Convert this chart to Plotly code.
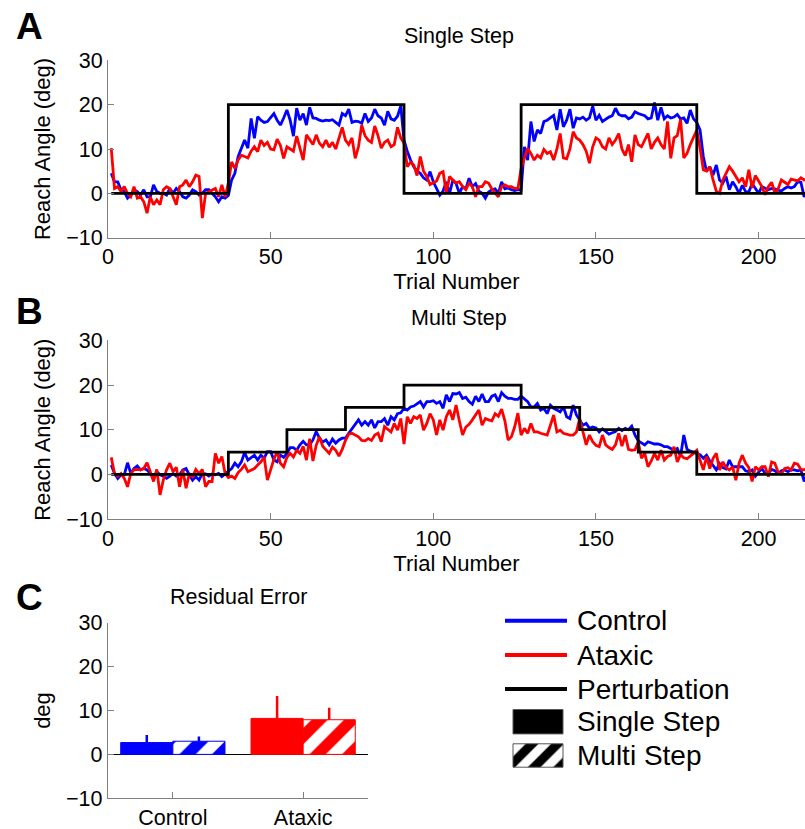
import plotly.graph_objects as go

W, H = 805, 829
FONT = "Liberation Sans, Arial, Helvetica, sans-serif"
BLUE, RED, BLACK, GRAY = "#0000ff", "#ff0000", "#000000", "#808080"

trials = list(range(1, 217))

# Reach angle (deg) for each trial, single-step session
control_single = [
    4.5, 2.6, 2.6, 0.8, 0.4, -1.1, -0.4, 0.8, 0.4, -0.4,        # 1-10
    0.8, -0.8, -0.8, 1.9, 0.4, 0.0, 0.0, -0.4, 1.1, 0.0,         # 11-20
    1.1, 0.4, -0.8, -1.1, -0.4, 0.8, 0.4, -0.4, 0.0, 0.8,        # 21-30
    0.8, 0.0, -0.8, -1.9, -0.8, -1.1, -0.5, 3.0, 4.5, 8.3,       # 31-40
    10.0, 12.0, 10.2, 16.9, 12.4, 17.3, 16.5, 16.0, 16.2, 17.0,  # 41-50
    18.0, 16.5, 15.4, 17.0, 18.8, 16.5, 12.9, 19.2, 16.5, 18.0,  # 51-60
    15.4, 19.4, 17.0, 16.9, 16.5, 16.3, 16.5, 16.4, 16.6, 16.0,  # 61-70
    15.4, 18.0, 17.5, 19.0, 16.0, 16.3, 16.2, 15.8, 18.0, 16.2,  # 71-80
    17.0, 19.0, 17.5, 17.0, 15.4, 18.5, 16.8, 16.5, 17.4, 19.7,  # 81-90
    12.0, 9.5, 7.5, 6.0, 5.0, 4.5, 3.5, 3.0, 4.9, 2.6,           # 91-100
    1.0, -0.4, 0.5, 2.6, 0.0, 3.0, 2.2, 0.0, 1.5, 1.0,           # 101-110
    3.4, 1.5, 2.2, 0.5, 0.0, -1.1, 0.3, 0.8, 1.0, 0.0,           # 111-120
    2.6, 1.0, 1.2, 0.8, 0.6, 0.8, 0.8, 10.5, 7.5, 16.2,          # 121-130
    11.7, 14.3, 13.5, 16.2, 16.5, 17.0, 17.6, 14.3, 19.0, 15.0,  # 131-140
    16.5, 19.0, 14.7, 17.0, 16.8, 17.2, 16.5, 17.0, 19.7, 16.5,  # 141-150
    17.6, 16.2, 16.8, 17.2, 17.5, 19.2, 17.8, 17.5, 17.5, 16.8,  # 151-160
    17.2, 18.4, 18.0, 17.8, 17.5, 16.8, 17.0, 20.5, 16.5, 19.4,  # 161-170
    16.8, 17.5, 17.0, 17.2, 17.8, 16.8, 17.0, 15.8, 18.8, 16.8,  # 171-180
    16.0, 14.3, 8.3, 4.9, 6.0, 4.1, 6.4, 3.0, 2.3, 3.8,          # 181-190
    0.8, 2.6, 1.5, 0.0, 1.8, 0.4, 0.3, 2.2, 1.0, 0.0,            # 191-200
    1.5, 1.2, 0.8, 1.1, 1.0, 0.7, 0.5, 1.1, 1.5, 1.2,            # 201-210
    1.5, 2.6, 2.5, -0.8, 0.5, 0.5,                               # 211-216
]
ataxic_single = [
    10.2, 1.1, 1.5, 0.4, 1.5, 0.0, -0.8, 1.5, -1.1, -0.8,        # 1-10
    -1.9, -4.5, -0.8, -2.6, -1.5, -2.6, 0.8, 1.5, 1.1, -0.8,     # 11-20
    -2.6, 1.5, 1.9, 3.0, 1.5, 2.6, 4.1, 3.8, -5.6, 0.0,          # 21-30
    0.4, 0.8, 1.1, -0.8, 1.9, -0.8, 2.3, 7.1, 5.6, 7.5,          # 31-40
    8.6, 8.3, 8.0, 9.5, 10.5, 9.4, 12.0, 10.8, 11.5, 10.0,       # 41-50
    9.8, 12.2, 10.8, 7.9, 10.5, 10.0, 9.5, 12.9, 10.0, 7.5,      # 51-60
    13.2, 12.0, 11.0, 13.2, 11.3, 10.5, 12.0, 10.4, 11.5, 10.0,  # 61-70
    12.5, 14.9, 12.0, 11.0, 12.5, 7.9, 10.5, 15.4, 13.0, 12.0,   # 71-80
    11.5, 15.2, 13.0, 10.2, 11.5, 12.0, 10.5, 11.0, 14.9, 12.5,  # 81-90
    11.3, 6.0, 7.0, 6.4, 4.0, 8.3, 5.0, 3.8, 2.0, 2.5,           # 91-100
    2.8, 4.5, 4.9, 0.0, 3.8, 3.0, 2.3, 2.6, 1.5, 0.8,            # 101-110
    2.3, 1.5, -0.8, 1.5, 1.5, 2.6, 2.3, 1.0, 0.0, -0.8,          # 111-120
    1.5, 1.9, 1.5, 1.5, 1.1, 1.1, 5.6, 8.0, 10.2, 9.0,           # 121-130
    7.5, 8.6, 8.0, 9.9, 9.0, 9.4, 7.5, 10.0, 13.5, 8.0,          # 131-140
    7.8, 10.0, 13.9, 12.5, 12.0, 11.0, 9.5, 6.8, 10.5, 12.5,     # 141-150
    12.0, 10.5, 10.0, 12.5, 11.0, 12.0, 13.5, 10.0, 8.5, 11.0,   # 151-160
    7.1, 13.2, 11.0, 10.5, 12.0, 13.5, 10.0, 11.5, 12.5, 11.0,   # 161-170
    10.0, 16.2, 7.9, 12.5, 13.0, 16.7, 8.0, 9.0, 11.0, 12.5,     # 171-180
    14.3, 10.2, 5.3, 5.0, 6.0, 3.0, 0.5, 0.0, 3.0, 4.5,          # 181-190
    6.0, 5.0, 3.8, 2.6, 3.5, 1.5, 5.3, 1.2, 4.0, 2.6,            # 191-200
    1.5, -0.3, 1.5, 2.5, 0.0, 1.0, 3.0, 2.5, 2.0, 3.2,           # 201-210
    3.0, 2.8, 3.5, 3.0, 3.2, 3.0,                                # 211-216
]

# Reach angle (deg) for each trial, multi-step session
control_multi = [
    2.1, 0.2, -0.9, -0.1, -0.1, 2.6, 0.2, 1.3, 1.9, 1.0,         # 1-10
    1.3, 1.0, 0.2, -0.9, 0.6, -0.1, -0.4, -0.9, -0.4, 0.2,       # 11-20
    -0.4, -0.1, 1.0, 1.3, -0.1, -1.3, -0.5, -1.3, 0.2, 0.1,      # 21-30
    -0.4, 0.1, -0.1, 0.2, -0.5, 0.1, 0.6, 1.3, 2.5, 1.7,         # 31-40
    2.8, 4.9, 3.2, 3.8, 4.3, 3.2, 4.3, 3.6, 5.1, 5.1,            # 41-50
    3.2, 2.8, 4.3, 3.8, 4.7, 6.0, 6.0, 5.4, 6.6, 7.4,            # 51-60
    6.6, 6.6, 7.7, 9.6, 8.1, 7.2, 7.7, 6.6, 7.9, 7.0,            # 61-70
    7.7, 8.1, 8.1, 9.2, 10.3, 11.4, 12.2, 11.0, 11.8, 11.0,      # 71-80
    12.2, 10.4, 11.8, 11.8, 12.5, 11.0, 12.9, 12.2, 13.6, 13.8,  # 81-90
    14.8, 14.4, 15.1, 15.3, 15.9, 16.3, 15.1, 16.3, 16.3, 16.5,  # 91-100
    15.9, 16.3, 14.8, 17.8, 16.3, 18.1, 18.0, 18.3, 17.0, 17.3,  # 101-110
    16.3, 15.7, 17.5, 16.3, 18.0, 16.3, 16.3, 17.5, 17.8, 16.3,  # 111-120
    18.3, 17.5, 17.0, 17.0, 16.8, 16.8, 17.5, 17.0, 16.3, 15.1,  # 121-130
    15.1, 15.9, 14.4, 14.8, 13.6, 15.5, 14.8, 14.4, 14.0, 15.1,  # 131-140
    12.9, 12.5, 15.5, 13.3, 12.0, 11.0, 11.4, 10.3, 10.6, 10.4,  # 141-150
    9.5, 10.2, 9.6, 9.0, 9.3, 9.6, 10.3, 9.8, 10.3, 10.0,        # 151-160
    10.8, 8.8, 7.5, 7.0, 6.6, 7.3, 7.0, 6.8, 6.8, 6.6,           # 161-170
    6.2, 6.2, 5.8, 5.4, 5.8, 4.0, 8.8, 5.6, 5.2, 5.0,            # 171-180
    4.6, 4.4, 3.6, 4.3, 3.0, 2.1, 1.0, 2.4, 1.5, 1.2,            # 181-190
    3.2, 1.7, 1.7, 1.7, 1.7, 0.8, 0.6, 1.0, -0.4, 0.5,           # 191-200
    1.3, 0.2, 0.2, 1.1, 0.8, 0.2, 0.8, 1.0, 0.6, 1.0,            # 201-210
    1.0, 0.8, 1.0, -1.6, 0.3, 0.3,                               # 211-216
]
ataxic_multi = [
    3.8, 0.2, -0.4, 0.2, -0.9, -2.8, 0.2, 1.0, 1.1, 1.0,         # 1-10
    1.3, 2.6, 0.6, -1.6, 1.1, -4.6, -1.3, 1.0, 2.5, 0.6,         # 11-20
    1.6, -2.8, 1.1, -3.1, 0.2, -0.5, 1.1, 0.1, 1.1, -2.8,        # 21-30
    -1.6, -1.6, 4.7, 2.5, 4.0, 0.2, -0.7, -0.4, -0.9, 0.4,       # 31-40
    1.1, 2.1, 0.6, 1.0, 1.3, 2.1, 2.8, 3.9, -1.3, 1.0,           # 41-50
    3.4, 5.1, 2.5, 1.7, 3.8, 4.7, 3.9, 5.4, 4.7, 6.3,            # 51-60
    3.2, 8.0, 3.0, 6.5, 8.4, 6.3, 5.4, 4.7, 6.1, 5.4,            # 61-70
    4.1, 5.6, 7.6, 9.0, 9.2, 8.8, 8.4, 7.6, 7.5, 8.0,            # 71-80
    7.6, 8.8, 9.2, 7.3, 10.7, 10.1, 9.5, 11.4, 9.9, 12.5,        # 81-90
    6.8, 12.9, 11.4, 12.9, 12.5, 13.3, 9.9, 11.4, 13.6, 12.2,    # 91-100
    8.8, 12.2, 9.9, 12.9, 14.4, 12.2, 15.5, 12.0, 8.8, 10.6,     # 101-110
    11.2, 12.2, 13.3, 14.4, 11.0, 12.5, 12.2, 12.0, 13.6, 13.0,  # 111-120
    14.6, 12.0, 7.7, 8.4, 10.6, 13.7, 8.8, 10.3, 9.2, 11.4,      # 121-130
    9.5, 9.5, 9.2, 9.0, 8.8, 11.0, 13.3, 9.5, 9.9, 9.2,          # 131-140
    9.0, 8.8, 8.8, 9.5, 12.5, 9.5, 6.6, 8.8, 7.3, 6.5,           # 141-150
    6.2, 8.8, 6.6, 6.0, 5.6, 6.6, 9.2, 6.3, 8.8, 5.6,            # 151-160
    5.4, 5.5, 7.3, 3.6, 4.7, 1.7, 3.0, 4.7, 3.2, 5.4,            # 161-170
    3.2, 4.0, 4.3, 6.2, 2.8, 4.4, 3.7, 3.5, 4.0, 4.7,            # 171-180
    5.4, 3.0, 1.0, 4.0, 1.3, 3.6, 4.7, 1.0, 2.8, 1.5,            # 181-190
    1.0, 1.7, -1.3, 2.5, 4.3, 2.5, 1.5, -1.6, 1.7, 1.0,          # 191-200
    1.7, 1.7, -0.5, 2.8, 2.5, 0.5, 0.1, 1.3, 1.5, 1.0,           # 201-210
    2.5, 2.3, 1.1, 1.0, 1.3, 1.0,                                # 211-216
]

# Perturbation schedules: (rotation in deg, number of trials)
single_schedule = [(0, 36), (20, 54), (0, 36), (20, 54), (0, 36)]
multi_schedule = [(0, 36), (5, 18), (10, 18), (15, 18), (20, 36),
                  (15, 18), (10, 18), (5, 18), (0, 36)]

# Residual error (deg): mean and upper error per group
groups = ["Control", "Ataxic"]
group_colors = [BLUE, RED]
residual_single = [2.7, 8.2]
residual_multi = [3.0, 7.9]
error_single = [1.7, 5.1]
error_multi = [1.1, 2.7]

legend_labels = ["Control", "Ataxic", "Perturbation", "Single Step", "Multi Step"]


def expand(schedule):
    levels = []
    for level, count in schedule:
        levels.extend([level] * count)
    return levels


def xdom(left_px, right_px):
    return [left_px / W, right_px / W]


def ydom(top_px, bottom_px):
    return [1 - bottom_px / H, 1 - top_px / H]


fig = go.Figure()

panels = [
    ("", control_single, ataxic_single, expand(single_schedule)),
    ("2", control_multi, ataxic_multi, expand(multi_schedule)),
]
for suffix, ctrl, atx, pert in panels:
    xa, ya = "x" + suffix, "y" + suffix
    fig.add_trace(go.Scatter(x=trials, y=ctrl, mode="lines", xaxis=xa, yaxis=ya,
                             line=dict(color=BLUE, width=2.8), showlegend=False))
    fig.add_trace(go.Scatter(x=trials, y=atx, mode="lines", xaxis=xa, yaxis=ya,
                             line=dict(color=RED, width=2.8), showlegend=False))
    fig.add_trace(go.Scatter(x=trials, y=pert, mode="lines", xaxis=xa, yaxis=ya,
                             line=dict(color=BLACK, width=2.8, shape="hv"),
                             showlegend=False))

# Residual error bars: solid = single step, hatched = multi step
for i, (name, col) in enumerate(zip(groups, group_colors)):
    pos = i + 1
    fig.add_trace(go.Bar(
        x=[pos], y=[residual_single[i]], width=0.4, offset=-0.4,
        xaxis="x3", yaxis="y3", showlegend=False,
        marker=dict(color=col, line=dict(color=col, width=1)),
        error_y=dict(type="data", symmetric=False, array=[error_single[i]],
                     arrayminus=[0], width=0, thickness=2.5, color=col)))
    fig.add_trace(go.Bar(
        x=[pos], y=[residual_multi[i]], width=0.4, offset=0,
        xaxis="x3", yaxis="y3", showlegend=False,
        marker=dict(color=col, line=dict(color=col, width=1),
                    pattern=dict(shape="/", fgcolor="white", fgopacity=1,
                                 fillmode="overlay", size=23, solidity=0.5)),
        error_y=dict(type="data", symmetric=False, array=[error_multi[i]],
                     arrayminus=[0], width=0, thickness=2.5, color=col)))

# Legend drawn in its own pixel-scaled axes
LX0, LX1, LY0, LY1 = 490, 805, 595, 785
row_y = [620.7, 655.0, 689.0, 721.7, 755.5]
line_colors = [BLUE, RED, BLACK]
shapes = []
for yy, col in zip(row_y[:3], line_colors):
    shapes.append(dict(type="line", xref="x4", yref="y4", x0=505, x1=567,
                       y0=yy, y1=yy, line=dict(color=col, width=4)))
fig.add_trace(go.Bar(
    x=[538, 538], y=[24.4, 23.4], base=[row_y[3] - 12.2, row_y[4] - 11.7],
    width=50, xaxis="x4", yaxis="y4", showlegend=False, hoverinfo="skip",
    marker=dict(color=["black", "black"], line=dict(color="#555555", width=1),
                pattern=dict(shape=["", "/"], fgcolor="white", fgopacity=1,
                             fillmode="overlay", size=18, solidity=0.5))))

annotations = []
for yy, label in zip(row_y, legend_labels):
    annotations.append(dict(x=575, y=yy, xref="x4", yref="y4", text=label,
                            showarrow=False, xanchor="left", yanchor="middle",
                            font=dict(family=FONT, size=28, color="black")))

# Panel letters and titles
for letter, ypx in [("A", 26), ("B", 311), ("C", 597)]:
    annotations.append(dict(x=14 / W, y=1 - ypx / H, xref="paper", yref="paper",
                            text="<b>%s</b>" % letter, showarrow=False,
                            xanchor="left", yanchor="middle",
                            font=dict(family=FONT, size=37, color="black")))
for title, xpx, ypx in [("Single Step", 459, 36), ("Multi Step", 459, 318),
                        ("Residual Error", 238, 597)]:
    annotations.append(dict(x=xpx / W, y=1 - ypx / H, xref="paper", yref="paper",
                            text=title, showarrow=False, xanchor="center",
                            yanchor="middle",
                            font=dict(family=FONT, size=21.5, color="black")))

tick_font = dict(family=FONT, size=21.5, color="black")
title_font = dict(family=FONT, size=22, color="black")
axis_style = dict(showline=True, linecolor=GRAY, linewidth=1, ticks="inside",
                  ticklen=6, tickcolor=GRAY, showgrid=False, zeroline=False,
                  tickfont=tick_font, mirror=False, automargin=False)

x_range = [0, (805 - 108) / 3.253]
layout = dict(
    width=W, height=H, margin=dict(l=0, r=0, t=0, b=0),
    paper_bgcolor="white", plot_bgcolor="white", barmode="overlay",
    showlegend=False, shapes=shapes, annotations=annotations,
    xaxis=dict(domain=xdom(108, 805), range=x_range, anchor="y",
               tickvals=[0, 50, 100, 150, 200],
               title=dict(text="Trial Number", font=title_font, standoff=0),
               **axis_style),
    yaxis=dict(domain=ydom(60.4, 237.6), range=[-10, 30], anchor="x",
               tickvals=[-10, 0, 10, 20, 30],
               title=dict(text="Reach Angle (deg)", font=title_font, standoff=9),
               **axis_style),
    xaxis2=dict(domain=xdom(108, 805), range=x_range, anchor="y2",
                tickvals=[0, 50, 100, 150, 200],
                title=dict(text="Trial Number", font=title_font, standoff=0),
                **axis_style),
    yaxis2=dict(domain=ydom(340.4, 519), range=[-10, 30], anchor="x2",
                tickvals=[-10, 0, 10, 20, 30],
                title=dict(text="Reach Angle (deg)", font=title_font, standoff=9),
                **axis_style),
    xaxis3=dict(domain=xdom(107.7, 368.3), range=[0.5, 2.5], anchor="y3",
                tickvals=[1, 2], ticktext=groups, **axis_style),
    yaxis3=dict(domain=ydom(622.7, 798.3), range=[-10, 30], anchor="x3",
                tickvals=[-10, 0, 10, 20, 30],
                title=dict(text="deg", font=title_font, standoff=9),
                **{**axis_style, "zeroline": True, "zerolinecolor": BLACK,
                   "zerolinewidth": 1}),
    xaxis4=dict(domain=xdom(LX0, LX1), range=[LX0, LX1], anchor="y4", visible=False),
    yaxis4=dict(domain=ydom(LY0, LY1), range=[LY1, LY0], anchor="x4", visible=False),
)
fig.update_layout(**layout)

fig.write_html("out.html")
